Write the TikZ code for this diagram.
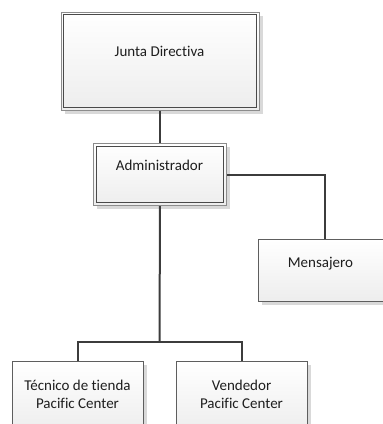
\documentclass[tikz,border=0pt]{standalone}
\usepackage{fontspec}
\setmainfont{Carlito}[Ligatures=NoCommon]
\usetikzlibrary{shadows,calc}
\definecolor{connc}{HTML}{3C3C3C}
\definecolor{outerb}{HTML}{8C8C8C}
\definecolor{innerb}{HTML}{4A4A4A}
\definecolor{boxb}{HTML}{5E5E5E}
\definecolor{shad}{HTML}{D9D9D9}
\definecolor{txt}{HTML}{1E1E1E}
\tikzset{
 orgbox/.style={rectangle, draw=boxb, line width=1pt, top color=white, bottom color=black!7,
   drop shadow={shadow xshift=3.5pt, shadow yshift=-3.5pt, fill=shad, opacity=1},
   inner sep=0pt, anchor=north west},
 dblbox/.style={orgbox, draw=outerb},
 innerline/.style={draw=innerb, line width=1pt},
 connline/.style={draw=connc, line width=2pt},
 lbl/.style={font=\fontsize{15}{18}\selectfont, text=txt, align=center, anchor=base, inner sep=0pt}
}
\begin{document}
\begin{tikzpicture}[x=1pt,y=-1pt]
\useasboundingbox (0,0) rectangle (383,424);
\clip (0,0) rectangle (383,424);
% boxes
\node[dblbox, minimum width=198pt, minimum height=98pt] (junta) at (60.5,11.5) {};
\draw[innerline] ([shift={(3.3pt,-3.3pt)}]junta.north west) rectangle ([shift={(-3.3pt,3.3pt)}]junta.south east);
\node[lbl] (juntat) at (159.5,56) {Junta Directiva};

\node[dblbox, minimum width=133pt, minimum height=62pt] (admin) at (93,143) {};
\draw[innerline] ([shift={(3.3pt,-3.3pt)}]admin.north west) rectangle ([shift={(-3.3pt,3.3pt)}]admin.south east);
\node[lbl] (admint) at (159.5,170) {Administrador};

\node[orgbox, minimum width=132pt, minimum height=62pt] (mens) at (258,239) {};
\node[lbl] (menst) at (320.5,267) {Mensajero};

\node[orgbox, minimum width=131pt, minimum height=70pt] (tec) at (12,361) {};
\node[lbl] (tect) at (77.5,408) {Técnico de tienda\\Pacific Center};

\node[orgbox, minimum width=131pt, minimum height=70pt] (vend) at (176,361) {};
\node[lbl] (vendt) at (241.5,408) {Vendedor\\Pacific Center};

% connectors
\coordinate (bus) at (159.5,342);
\draw[connline] (junta.south) -- (admin.north);
\draw[connline] (admin.south) -- (bus);
\draw[connline] (tec.north) |- (bus) -| (vend.north);
\draw[connline] (admin.east) -| (mens.north);
\end{tikzpicture}
\end{document}
